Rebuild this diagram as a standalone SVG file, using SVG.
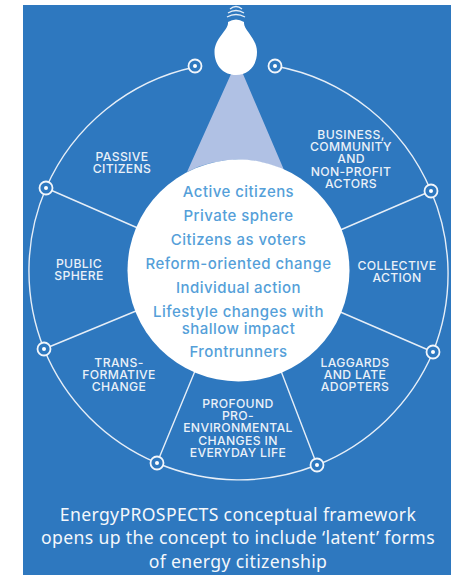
<svg xmlns="http://www.w3.org/2000/svg" width="455" height="575" viewBox="0 0 455 575">
<style>
.l{font-family:"Inter","Liberation Sans",sans-serif;font-size:12.2px;fill:#fff;text-anchor:middle;font-weight:500;letter-spacing:.35px;opacity:.9}
.c{font-family:"Inter","Liberation Sans",sans-serif;font-size:15px;fill:#559fd9;text-anchor:middle;font-weight:500;letter-spacing:.45px}
.b{font-family:"Noto Sans","Open Sans",sans-serif;font-size:17.6px;fill:#fff;text-anchor:middle;letter-spacing:.36px;opacity:.95}
.w{fill:none;stroke:#e6eef7;stroke-width:1.4}
.d{fill:#2e78bf;stroke:#f2f6fb;stroke-width:1.8}
.p{fill:#fff}
</style>
<rect width="455" height="575" fill="#fff"/>
<rect x="23" y="5" width="428" height="570" fill="#2e78bf"/>
<g id="connectors">
<path class="w" d="M195 67A210 210 0 0 0 46 188M46 188A210 210 0 0 0 44 349M44 349A210 210 0 0 0 157 463M157 463A210 210 0 0 0 317 465M317 465A210 210 0 0 0 433 352M433 352A210 210 0 0 0 431 191M431 191A210 210 0 0 0 275 66"/>
<path class="w" d="M46 188L140 229M44 349L136 311M157 463L195 371M317 465L281 371M433 352L338 311M431 191L338 231"/>
</g>
<g id="bulb">
<path d="M231 74L187 172A111 111 0 0 1 284 170L243 74Z" fill="#b0c1e4"/>
<path d="M230 9Q236 4 242 9M228 13Q236 8 244 13M227 17Q236 12 245 17" fill="none" stroke="#e6eef7" stroke-width="1.3"/>
<path d="M228 22Q236 17 244 22L243 25L229 25Z" fill="#fff"/>
<path d="M228 22C229 30 214.500 38 214.500 52C214.500 66 224 75 236 75C248 75 257 66 257 52C257 38 243 30 244 22Z" fill="#fff"/>
</g>
<g id="center">
<circle cx="238.5" cy="270.500" r="111" fill="#fff"/>
<text class="c" x="238.500" y="197">Active citizens</text>
<text class="c" x="238.500" y="221">Private sphere</text>
<text class="c" x="238.500" y="245">Citizens as voters</text>
<text class="c" x="238.500" y="269">Reform-oriented change</text>
<text class="c" x="238.500" y="293">Individual action</text>
<text class="c" x="238.500" y="317">Lifestyle changes with</text>
<text class="c" x="238.500" y="334">shallow impact</text>
<text class="c" x="238.500" y="357">Frontrunners</text>
</g>
<g id="n1"><circle class="d" cx="195" cy="66" r="6.500"/><circle class="p" cx="195" cy="66" r="2"/></g>
<g id="n2"><circle class="d" cx="275" cy="66" r="6.500"/><circle class="p" cx="275" cy="66" r="2"/></g>
<g id="n3"><circle class="d" cx="46" cy="188" r="6.500"/><circle class="p" cx="46" cy="188" r="2"/></g>
<g id="n4"><circle class="d" cx="431" cy="191" r="6.500"/><circle class="p" cx="431" cy="191" r="2"/></g>
<g id="n5"><circle class="d" cx="44" cy="349" r="6.500"/><circle class="p" cx="44" cy="349" r="2"/></g>
<g id="n6"><circle class="d" cx="433" cy="352" r="6.500"/><circle class="p" cx="433" cy="352" r="2"/></g>
<g id="n7"><circle class="d" cx="157" cy="463" r="6.500"/><circle class="p" cx="157" cy="463" r="2"/></g>
<g id="n8"><circle class="d" cx="317" cy="465" r="6.500"/><circle class="p" cx="317" cy="465" r="2"/></g>
<g id="passive"><text class="l" x="122" y="161">PASSIVE</text><text class="l" x="122" y="173">CITIZENS</text></g>
<g id="business"><text class="l" x="351" y="139">BUSINESS,</text><text class="l" x="351" y="151">COMMUNITY</text><text class="l" x="351" y="163">AND</text><text class="l" x="351" y="176">NON-PROFIT</text><text class="l" x="351" y="188">ACTORS</text></g>
<g id="public"><text class="l" x="79" y="268">PUBLIC</text><text class="l" x="79" y="280">SPHERE</text></g>
<g id="collective"><text class="l" x="397" y="270">COLLECTIVE</text><text class="l" x="397" y="282">ACTION</text></g>
<g id="trans"><text class="l" x="119" y="367">TRANS-</text><text class="l" x="119" y="379">FORMATIVE</text><text class="l" x="119" y="391">CHANGE</text></g>
<g id="laggards"><text class="l" x="355" y="367">LAGGARDS</text><text class="l" x="355" y="379">AND LATE</text><text class="l" x="355" y="391">ADOPTERS</text></g>
<g id="profound"><text class="l" x="238" y="408">PROFOUND</text><text class="l" x="238" y="420">PRO-</text><text class="l" x="238" y="432">ENVIRONMENTAL</text><text class="l" x="238" y="445">CHANGES IN</text><text class="l" x="238" y="457">EVERYDAY LIFE</text></g>
<g id="caption"><text class="b" x="238" y="521">EnergyPROSPECTS conceptual framework</text><text class="b" x="238" y="544">opens up the concept to include ‘latent’ forms</text><text class="b" x="238" y="568">of energy citizenship</text></g>
</svg>
